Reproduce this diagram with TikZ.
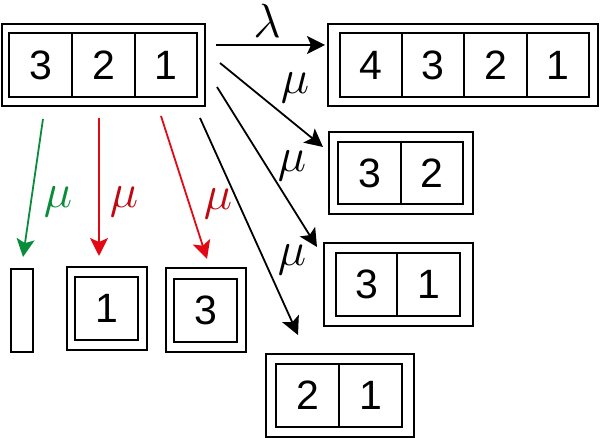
\RequirePackage{fix-cm}
\documentclass[tikz,border=0pt]{standalone}
\usepackage{fontspec}
\setmainfont{Liberation Sans}
\usetikzlibrary{arrows.meta}
\definecolor{mygreen}{RGB}{10,140,60}
\definecolor{myred}{RGB}{225,10,20}
\tikzset{
  boxline/.style={draw, line width=1.8pt, rectangle, inner sep=0pt},
  digit/.style={font=\fontsize{41}{41}\selectfont, inner sep=0pt},
  lab/.style={font=\fontsize{48}{48}\selectfont, inner sep=0pt},
  arr/.style={line width=1.8pt, -{Stealth[length=18pt, width=18pt, inset=4pt]}},
}
\begin{document}
\begin{tikzpicture}[x=1pt,y=1pt]
\useasboundingbox (0,0) rectangle (600,438);
% top-left box 3 2 1
\node[boxline, minimum width=203pt, minimum height=82pt] (A) at (103.5,373) {};
\node[boxline, minimum width=188pt, minimum height=64pt] (Ai) at (103,373) {};
\draw[line width=1.8pt] (72,341) -- (72,405) (135,341) -- (135,405);
\node[digit] (A3) at (40.5,373) {3};
\node[digit] (A2) at (103.5,373) {2};
\node[digit] (A1) at (166,373) {1};
% top-right box 4 3 2 1
\node[boxline, minimum width=270pt, minimum height=82pt] (B) at (463,373) {};
\node[boxline, minimum width=249pt, minimum height=64pt] (Bi) at (464.5,373) {};
\draw[line width=1.8pt] (402,341) -- (402,405) (464,341) -- (464,405) (527,341) -- (527,405);
\node[digit] (B4) at (371,373) {4};
\node[digit] (B3) at (433,373) {3};
\node[digit] (B2) at (495.5,373) {2};
\node[digit] (B1) at (558,373) {1};
% box 3 2
\node[boxline, minimum width=144pt, minimum height=82pt] (C) at (401,265) {};
\node[boxline, minimum width=125pt, minimum height=62pt] (Ci) at (400.5,265) {};
\draw[line width=1.8pt] (401,234) -- (401,296);
\node[digit] (C3) at (369.5,265) {3};
\node[digit] (C2) at (432,265) {2};
% box 3 1
\node[boxline, minimum width=149pt, minimum height=83pt] (D) at (398.5,153.5) {};
\node[boxline, minimum width=124pt, minimum height=63pt] (Di) at (398,153.5) {};
\draw[line width=1.8pt] (397,122) -- (397,185);
\node[digit] (D3) at (366.5,153.5) {3};
\node[digit] (D1) at (428.5,153.5) {1};
% box 2 1
\node[boxline, minimum width=148pt, minimum height=83pt] (E) at (340,42.5) {};
\node[boxline, minimum width=126pt, minimum height=63pt] (Ei) at (339,42.5) {};
\draw[line width=1.8pt] (339,11) -- (339,74);
\node[digit] (E2) at (307.5,42.5) {2};
\node[digit] (E1) at (370.5,42.5) {1};
% empty box
\node[boxline, minimum width=22pt, minimum height=83pt] (F) at (22,127.5) {};
% box 1
\node[boxline, minimum width=80pt, minimum height=83pt] (G) at (107,129.5) {};
\node[boxline, minimum width=63pt, minimum height=63pt] (Gi) at (106.5,129.5) {};
\node[digit] (G1) at (106.5,129.5) {1};
% box 3
\node[boxline, minimum width=80pt, minimum height=84pt] (H) at (206,128) {};
\node[boxline, minimum width=63pt, minimum height=63pt] (Hi) at (205.5,127.5) {};
\node[digit] (H3) at (205.5,127.5) {3};
% arrow end points
\coordinate (l0) at (216,393); \coordinate (l1) at (325,393);
\coordinate (m10) at (220,375); \coordinate (m11) at (323,291);
\coordinate (m20) at (217,351); \coordinate (m21) at (317,191);
\coordinate (m30) at (200,320); \coordinate (m31) at (298,103);
\coordinate (g0) at (43,319); \coordinate (g1) at (23,181);
\coordinate (r10) at (99,320); \coordinate (r11) at (99,182);
\coordinate (r20) at (161,322); \coordinate (r21) at (207,179);
\draw[arr] (l0) -- (l1);
\draw[arr] (m10) -- (m11);
\draw[arr] (m20) -- (m21);
\draw[arr] (m30) -- (m31);
\draw[arr, mygreen] (g0) -- (g1);
\draw[arr, myred] (r10) -- (r11);
\draw[arr, myred] (r20) -- (r21);
% labels
\node[lab] (ll) at (267,417.5) {$\lambda$};
\node[lab] (lm1) at (295,350) {$\mu$};
\node[lab] (lm2) at (292,272) {$\mu$};
\node[lab] (lm3) at (292,178) {$\mu$};
\node[lab, text=mygreen] (lg) at (58,236) {$\mu$};
\node[lab, text=myred!85!black] (lr1) at (124,236) {$\mu$};
\node[lab, text=myred!85!black] (lr2) at (218,234) {$\mu$};
\end{tikzpicture}
\end{document}
